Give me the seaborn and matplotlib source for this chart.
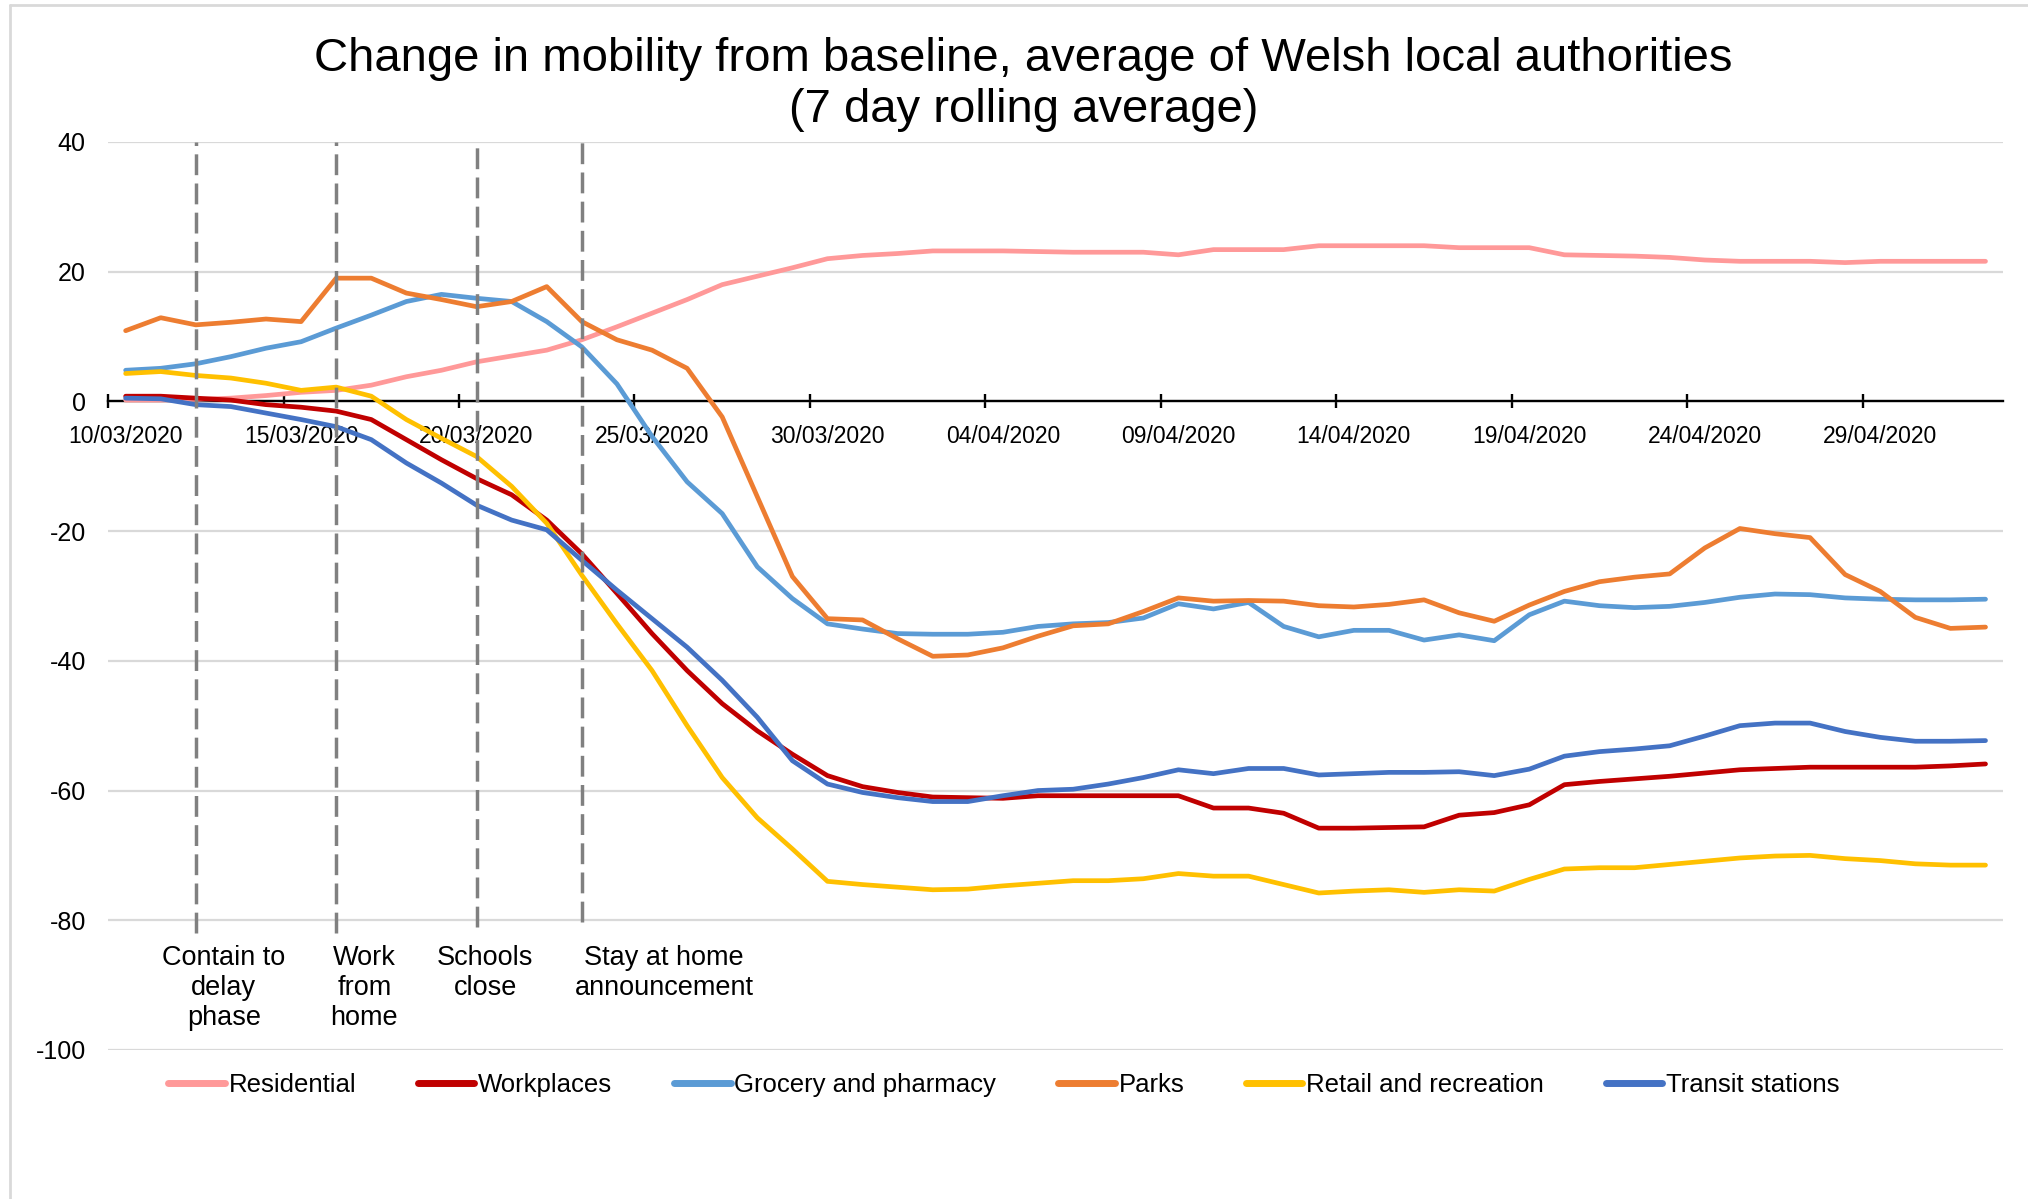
import matplotlib.dates as mdates
import matplotlib.pyplot as plt
import numpy as np
import pandas as pd
import seaborn as sns
from matplotlib.lines import Line2D
from matplotlib.ticker import FixedLocator

sns.set_theme(style="white")
plt.rcParams["font.family"] = ["Liberation Sans", "DejaVu Sans"]
plt.rcParams["axes.unicode_minus"] = False
plt.rcParams["text.color"] = "black"

# Google mobility, change from baseline (%), 7 day rolling average, 10/03/2020 - 02/05/2020
residential = [
    0.2, 0.2, 0.3, 0.5, 0.9, 1.4, 1.7, 2.5, 3.8, 4.8, 6.1, 7.0, 7.9, 9.5, 11.5,
    13.6, 15.7, 18.0, 19.3, 20.6, 22.0, 22.5, 22.8, 23.2, 23.2, 23.2, 23.1, 23.0,
    23.0, 23.0, 22.6, 23.4, 23.4, 23.4, 24.0, 24.0, 24.0, 24.0, 23.7, 23.7, 23.7,
    22.6, 22.5, 22.4, 22.2, 21.8, 21.6, 21.6, 21.6, 21.4, 21.6, 21.6, 21.6, 21.6,
]
workplaces = [
    0.8, 0.8, 0.5, 0.2, -0.5, -0.9, -1.5, -2.8, -5.9, -9.0, -11.9, -14.4, -18.3,
    -23.5, -29.6, -35.8, -41.5, -46.6, -50.8, -54.4, -57.7, -59.4, -60.3, -61.0,
    -61.1, -61.2, -60.8, -60.8, -60.8, -60.8, -60.8, -62.7, -62.7, -63.5, -65.8,
    -65.8, -65.7, -65.6, -63.8, -63.4, -62.2, -59.1, -58.6, -58.2, -57.8, -57.3,
    -56.8, -56.6, -56.4, -56.4, -56.4, -56.4, -56.2, -55.9,
]
grocery = [
    4.8, 5.1, 5.8, 6.9, 8.2, 9.2, 11.3, 13.3, 15.4, 16.5, 15.9, 15.4, 12.3, 8.4,
    2.7, -5.4, -12.4, -17.3, -25.5, -30.4, -34.3, -35.1, -35.8, -35.9, -35.9,
    -35.6, -34.7, -34.3, -34.1, -33.4, -31.2, -32.0, -31.0, -34.7, -36.3, -35.3,
    -35.3, -36.8, -36.0, -36.9, -32.9, -30.8, -31.5, -31.8, -31.6, -31.0, -30.2,
    -29.7, -29.8, -30.3, -30.5, -30.6, -30.6, -30.5,
]
parks = [
    10.9, 12.9, 11.8, 12.2, 12.7, 12.3, 19.0, 19.0, 16.7, 15.7, 14.6, 15.4, 17.7,
    12.3, 9.5, 7.9, 5.1, -2.4, -14.7, -27.0, -33.5, -33.7, -36.6, -39.3, -39.1,
    -38.0, -36.2, -34.6, -34.3, -32.4, -30.3, -30.8, -30.7, -30.8, -31.5, -31.7,
    -31.3, -30.6, -32.6, -33.9, -31.4, -29.3, -27.8, -27.1, -26.6, -22.6, -19.6,
    -20.4, -21.0, -26.7, -29.3, -33.3, -35.0, -34.8,
]
retail = [
    4.3, 4.6, 4.0, 3.6, 2.8, 1.7, 2.2, 0.8, -2.8, -5.7, -8.5, -13.1, -18.8, -26.8,
    -34.3, -41.5, -50.0, -58.0, -64.2, -69.0, -74.0, -74.5, -74.9, -75.3, -75.2,
    -74.7, -74.3, -73.9, -73.9, -73.6, -72.8, -73.2, -73.2, -74.5, -75.8, -75.5,
    -75.3, -75.7, -75.3, -75.5, -73.7, -72.1, -71.9, -71.9, -71.4, -70.9, -70.4,
    -70.1, -70.0, -70.5, -70.8, -71.3, -71.5, -71.5,
]
transit = [
    0.5, 0.4, -0.5, -0.8, -1.8, -2.8, -3.9, -5.9, -9.5, -12.6, -16.0, -18.3, -19.8,
    -24.5, -29.1, -33.5, -37.9, -43.0, -48.7, -55.4, -59.0, -60.3, -61.1, -61.7,
    -61.7, -60.8, -60.0, -59.8, -59.0, -58.0, -56.8, -57.4, -56.6, -56.6, -57.6,
    -57.4, -57.2, -57.2, -57.1, -57.7, -56.7, -54.7, -54.0, -53.6, -53.1, -51.6,
    -50.0, -49.6, -49.6, -50.9, -51.8, -52.4, -52.4, -52.3,
]

CATEGORIES = [
    "Residential", "Workplaces", "Grocery and pharmacy",
    "Parks", "Retail and recreation", "Transit stations",
]
COLORS = ["#FF9999", "#C00000", "#5B9BD5", "#ED7D31", "#FFC000", "#4472C4"]

EVENT_DATES = ["2020-03-12", "2020-03-16", "2020-03-20", "2020-03-23"]
EVENT_LABELS = [
    "Contain to\ndelay\nphase", "Work\nfrom\nhome", "Schools\nclose",
    "Stay at home\nannouncement",
]

dates = pd.date_range("2020-03-10", periods=len(residential), freq="D")
series = dict(zip(CATEGORIES, [residential, workplaces, grocery, parks, retail, transit]))
df = pd.DataFrame({"Date": dates, **series}).melt(
    id_vars="Date", var_name="Category", value_name="Change"
)

fig = plt.figure(figsize=(20.28, 11.99), dpi=100)
ax = fig.add_axes([0.0533, 0.1243, 0.9344, 0.7573])

sns.lineplot(
    data=df, x="Date", y="Change", hue="Category", hue_order=CATEGORIES,
    palette=dict(zip(CATEGORIES, COLORS)), estimator=None, linewidth=3.4,
    solid_capstyle="round", solid_joinstyle="round", legend=False, ax=ax,
)

# event markers
half_day = pd.Timedelta(hours=12)
event_bottoms = [-82, -82, -81, -80.3]
label_shift = [0.8, 0.8, 0.25, 2.35]
for date, label, bottom, shift in zip(EVENT_DATES, EVENT_LABELS, event_bottoms, label_shift):
    d = pd.Timestamp(date)
    ax.vlines(d, bottom, 40, colors="#808080", linestyles=(0, (6, 2.4)),
              linewidth=2.5, zorder=3)
    ax.text(d + pd.Timedelta(days=shift), -83.8, label, ha="center", va="top",
            fontsize=19.5, linespacing=1.2, color="black")

# axes styling
ax.set_xlim(dates[0] - half_day, dates[-1] + half_day)
ax.set_ylim(-100, 40)
ax.set_yticks(np.arange(-100, 41, 20))
ax.set_xlabel("")
ax.set_ylabel("")
for side in ("left", "right", "top"):
    ax.spines[side].set_visible(False)
ax.spines["bottom"].set_position(("data", 0))
ax.spines["bottom"].set_color("black")
ax.spines["bottom"].set_linewidth(1.7)
ax.spines["bottom"].set_zorder(1.5)
ax.yaxis.grid(True, color="#D9D9D9", linewidth=1.6)
ax.xaxis.grid(False)
ax.set_axisbelow(True)

tick_dates = pd.date_range("2020-03-10", "2020-04-29", freq="5D")
ax.xaxis.set_major_locator(FixedLocator(mdates.date2num(tick_dates)))
ax.xaxis.set_major_formatter(mdates.DateFormatter("%d/%m/%Y"))
ax.xaxis.set_minor_locator(FixedLocator(mdates.date2num(tick_dates - half_day)))
ax.tick_params(axis="x", which="major", length=0, pad=17, labelsize=16.5,
               colors="black", labelcolor="black")
ax.tick_params(axis="x", which="minor", length=10, width=1.7, direction="inout",
               color="black", bottom=True)
ax.tick_params(axis="y", length=0, pad=16, labelsize=18, colors="black",
               labelcolor="black")

handles = [
    Line2D([], [], color=c, linewidth=5, solid_capstyle="round") for c in COLORS
]
fig.legend(
    handles, CATEGORIES, loc="center", bbox_to_anchor=(0.495, 0.095), ncol=6,
    frameon=False, fontsize=18.5, handlelength=2.2, handletextpad=0.15,
    columnspacing=2.4, labelcolor="black",
)

fig.suptitle(
    "Change in mobility from baseline, average of Welsh local authorities\n"
    "(7 day rolling average)",
    x=0.5046, y=0.969, va="top", fontsize=34, linespacing=1.2, color="black",
)

# chart area border (top and left visible)
fig.add_artist(Line2D([10 / 2028, 10 / 2028], [0, 1 - 5 / 1199],
                      transform=fig.transFigure, color="#D9D9D9", linewidth=2))
fig.add_artist(Line2D([10 / 2028, 1], [1 - 5 / 1199, 1 - 5 / 1199],
                      transform=fig.transFigure, color="#D9D9D9", linewidth=2))

fig.savefig("out.png", dpi=100)
